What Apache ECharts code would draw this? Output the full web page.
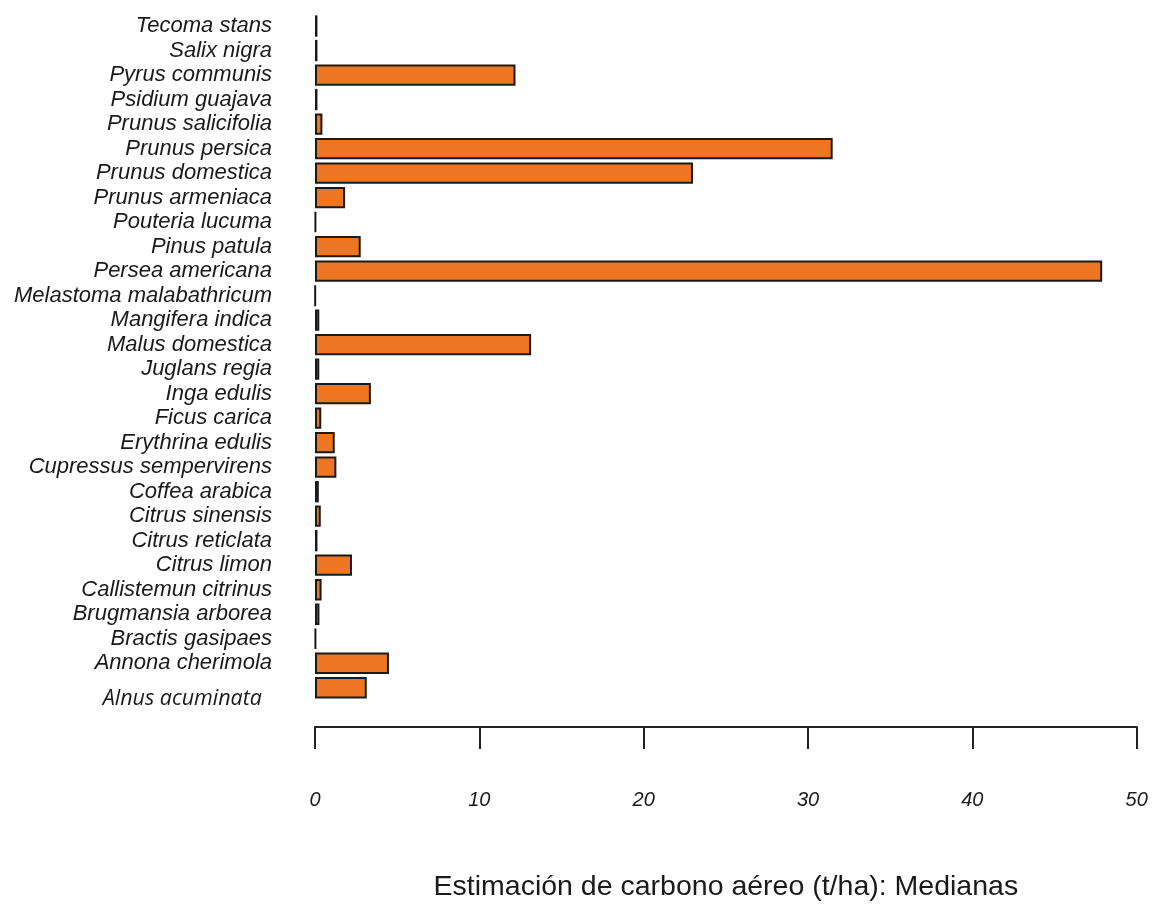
<!DOCTYPE html>
<html>
<head>
<meta charset="utf-8">
<script src="https://cdn.jsdelivr.net/npm/echarts@6/dist/echarts.min.js"></script>
<style>
html,body{margin:0;padding:0;background:#fff;}
#chart{width:1153px;height:907px;}
</style>
</head>
<body>
<div id="chart"></div>
<script>
// Categories, top to bottom as shown
const species = [
  'Tecoma stans','Salix nigra','Pyrus communis','Psidium guajava','Prunus salicifolia',
  'Prunus persica','Prunus domestica','Prunus armeniaca','Pouteria lucuma','Pinus patula',
  'Persea americana','Melastoma malabathricum','Mangifera indica','Malus domestica','Juglans regia',
  'Inga edulis','Ficus carica','Erythrina edulis','Cupressus sempervirens','Coffea arabica',
  'Citrus sinensis','Citrus reticlata','Citrus limon','Callistemun citrinus','Brugmansia arborea',
  'Bractis gasipaes','Annona cherimola','Alnus acuminata'
];
// Median aerial carbon (t/ha)
const medians = [
  0.15, 0.15, 12.2, 0.15, 0.45,
  31.5, 23.0, 1.83, 0.05, 2.78,
  47.9, 0.02, 0.26, 13.15, 0.26,
  3.4, 0.38, 1.2, 1.3, 0.23,
  0.35, 0.15, 2.25, 0.4, 0.27,
  0.05, 4.5, 3.15
];
const xTicks = [0, 10, 20, 30, 40, 50];
const xTitle = 'Estimación de carbono aéreo (t/ha): Medianas';

const chart = echarts.init(document.getElementById('chart'), null, {renderer: 'canvas'});
chart.setOption({
  animation: false,
  backgroundColor: '#ffffff',
  grid: {left: 315, width: 821.7, top: 13.8, height: 690.7, containLabel: false},
  xAxis: {
    type: 'value',
    min: xTicks[0],
    max: xTicks[xTicks.length - 1],
    interval: 10,
    offset: 27,
    splitLine: {show: false},
    axisLine: {show: true, lineStyle: {color: '#222', width: 2}},
    axisTick: {show: true, length: 22, lineStyle: {color: '#222', width: 2}},
    axisLabel: {
      margin: 63, fontSize: 20, fontStyle: 'italic',
      fontFamily: 'Liberation Sans', color: '#1a1a1a'
    },
    name: xTitle,
    nameLocation: 'middle',
    nameGap: 146,
    nameTextStyle: {fontSize: 28.5, fontFamily: 'Liberation Sans', color: '#1a1a1a'}
  },
  yAxis: {
    type: 'category',
    data: species,
    inverse: true,
    axisLine: {show: false},
    axisTick: {show: false},
    splitLine: {show: false},
    axisLabel: {
      interval: 0,
      margin: 43,
      fontSize: 22,
      fontStyle: 'italic',
      fontFamily: 'Liberation Sans',
      color: '#1a1a1a',
      formatter: function (v) {
        return v === 'Alnus acuminata' ? '{alt|' + v + '}' : v;
      },
      rich: {
        alt: {
          fontFamily: 'Open Sans', fontStyle: 'italic', fontSize: 21.5,
          color: '#1a1a1a', padding: [22, 10, 0, 0]
        }
      }
    }
  },
  series: [{
    type: 'bar',
    data: medians,
    barCategoryGap: '13%',
    itemStyle: {color: '#EE7623', borderColor: '#1a1a1a', borderWidth: 2}
  }]
});
</script>
</body>
</html>
